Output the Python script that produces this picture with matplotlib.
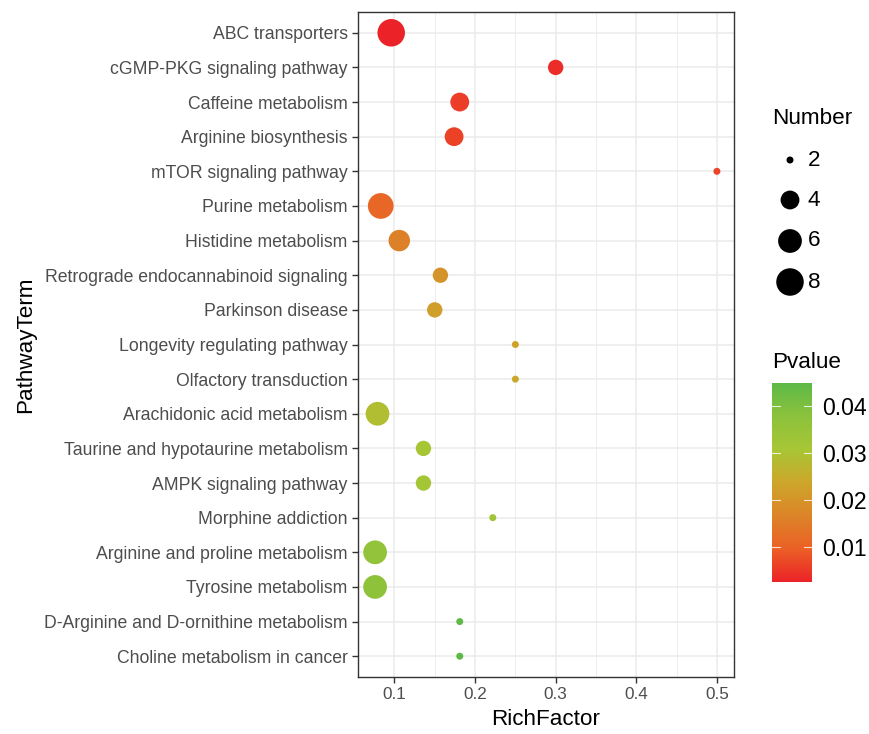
import numpy as np
import matplotlib
matplotlib.use("Agg")
import matplotlib.pyplot as plt
from matplotlib.colors import LinearSegmentedColormap, Normalize

plt.rcParams["font.family"] = ["Liberation Sans", "DejaVu Sans"]

# data
pathways = ["ABC transporters", "cGMP-PKG signaling pathway", "Caffeine metabolism",
            "Arginine biosynthesis", "mTOR signaling pathway", "Purine metabolism",
            "Histidine metabolism", "Retrograde endocannabinoid signaling",
            "Parkinson disease", "Longevity regulating pathway", "Olfactory transduction",
            "Arachidonic acid metabolism", "Taurine and hypotaurine metabolism",
            "AMPK signaling pathway", "Morphine addiction",
            "Arginine and proline metabolism", "Tyrosine metabolism",
            "D-Arginine and D-ornithine metabolism", "Choline metabolism in cancer"]
rich_factor = [0.096, 0.300, 0.181, 0.174, 0.500, 0.083, 0.106, 0.157, 0.150, 0.250,
               0.250, 0.079, 0.136, 0.136, 0.222, 0.076, 0.076, 0.181, 0.181]
number = [8, 3, 4, 4, 2, 7, 5, 3, 3, 2, 2, 6, 3, 3, 2, 6, 6, 2, 2]
pvalue = [0.0025, 0.0035, 0.0055, 0.006, 0.0065, 0.011, 0.016, 0.020, 0.022, 0.023,
          0.024, 0.029, 0.031, 0.032, 0.033, 0.036, 0.037, 0.0445, 0.0448]
size_breaks = [2, 4, 6, 8]
p_ticks = [0.01, 0.02, 0.03, 0.04]

# colour scale, red (low p) -> green (high p)
cmap = LinearSegmentedColormap.from_list(
    "rg", ["#EB2328", "#EB6026", "#DC8428", "#CDA62A", "#A8C635", "#8CC23C", "#5DB946"])
norm = Normalize(vmin=min(pvalue), vmax=max(pvalue))

# size scale (area), diameter in px
d_min, d_max = 7.0, 27.5
n_lo, n_hi = min(number), max(number)


def marker_area(n):
    n = np.asarray(n, dtype=float)
    d_px = d_min + (d_max - d_min) * np.sqrt((n - n_lo) / (n_hi - n_lo))
    return (d_px * 72 / 100) ** 2


W, H = 869, 734
fig = plt.figure(figsize=(W / 100, H / 100), dpi=100)
ax = fig.add_axes([358 / W, 1 - 677 / H, 376 / W, 665 / H])

ypos = np.arange(len(pathways))[::-1]
ax.scatter(rich_factor, ypos, s=marker_area(number), c=pvalue, cmap=cmap, norm=norm,
           linewidths=0, zorder=3)

xr = max(rich_factor) - min(rich_factor)
ax.set_xlim(min(rich_factor) - 0.05 * xr, max(rich_factor) + 0.05 * xr)
ax.set_ylim(-0.6, len(pathways) - 0.4)
ax.set_xticks([0.1, 0.2, 0.3, 0.4, 0.5])
ax.set_xticklabels(["0.1", "0.2", "0.3", "0.4", "0.5"])
ax.set_xticks([0.15, 0.25, 0.35, 0.45], minor=True)
ax.set_yticks(ypos)
ax.set_yticklabels(pathways)
ax.grid(which="major", color="#EBEBEB", linewidth=1.1, zorder=0)
ax.grid(which="minor", axis="x", color="#EBEBEB", linewidth=0.6, zorder=0)
ax.set_axisbelow(True)
for s in ax.spines.values():
    s.set_color("#333333")
    s.set_linewidth(1.0)
ax.tick_params(which="major", length=4, width=1.0, color="#333333",
               labelcolor="#4D4D4D")
ax.tick_params(axis="y", labelsize=12.7, pad=3.5)
ax.tick_params(axis="x", labelsize=12.3, pad=3)
ax.tick_params(which="minor", length=0)
ax.set_xlabel("RichFactor", fontsize=16.2, labelpad=5)
ax.set_ylabel("PathwayTerm", fontsize=16.2, labelpad=6)

# size legend
fig.text(772 / W, 1 - 119 / H, "Number", fontsize=16.2, va="center", ha="left")
lax = fig.add_axes([770 / W, 1 - 300 / H, 40 / W, 160 / H])
lax.set_xlim(0, 1)
lax.set_ylim(300, 140)
leg_y = [160, 200, 241, 282]
lax.scatter([0.5] * len(size_breaks), leg_y, s=marker_area(size_breaks), color="black",
            linewidths=0)
lax.axis("off")
for b, yy in zip(size_breaks, leg_y):
    fig.text(808 / W, 1 - yy / H, str(b), fontsize=16.2, va="center", ha="left")

# colour bar
fig.text(772 / W, 1 - 362 / H, "Pvalue", fontsize=16.2, va="center", ha="left")
cax = fig.add_axes([772 / W, 1 - 582 / H, 40 / W, 199 / H])
sm = plt.cm.ScalarMappable(norm=norm, cmap=cmap)
cb = fig.colorbar(sm, cax=cax, ticks=p_ticks)
cb.outline.set_visible(False)
cax.tick_params(length=0, labelsize=16.6, pad=7)
cax.set_yticklabels([f"{t:.2f}" for t in p_ticks])
for t in p_ticks:
    cax.plot([0, 0.2], [t, t], color="white", lw=0.8, alpha=0.8,
             transform=cax.get_yaxis_transform())
    cax.plot([0.8, 1], [t, t], color="white", lw=0.8, alpha=0.8,
             transform=cax.get_yaxis_transform())

fig.savefig("out.png", dpi=100)
